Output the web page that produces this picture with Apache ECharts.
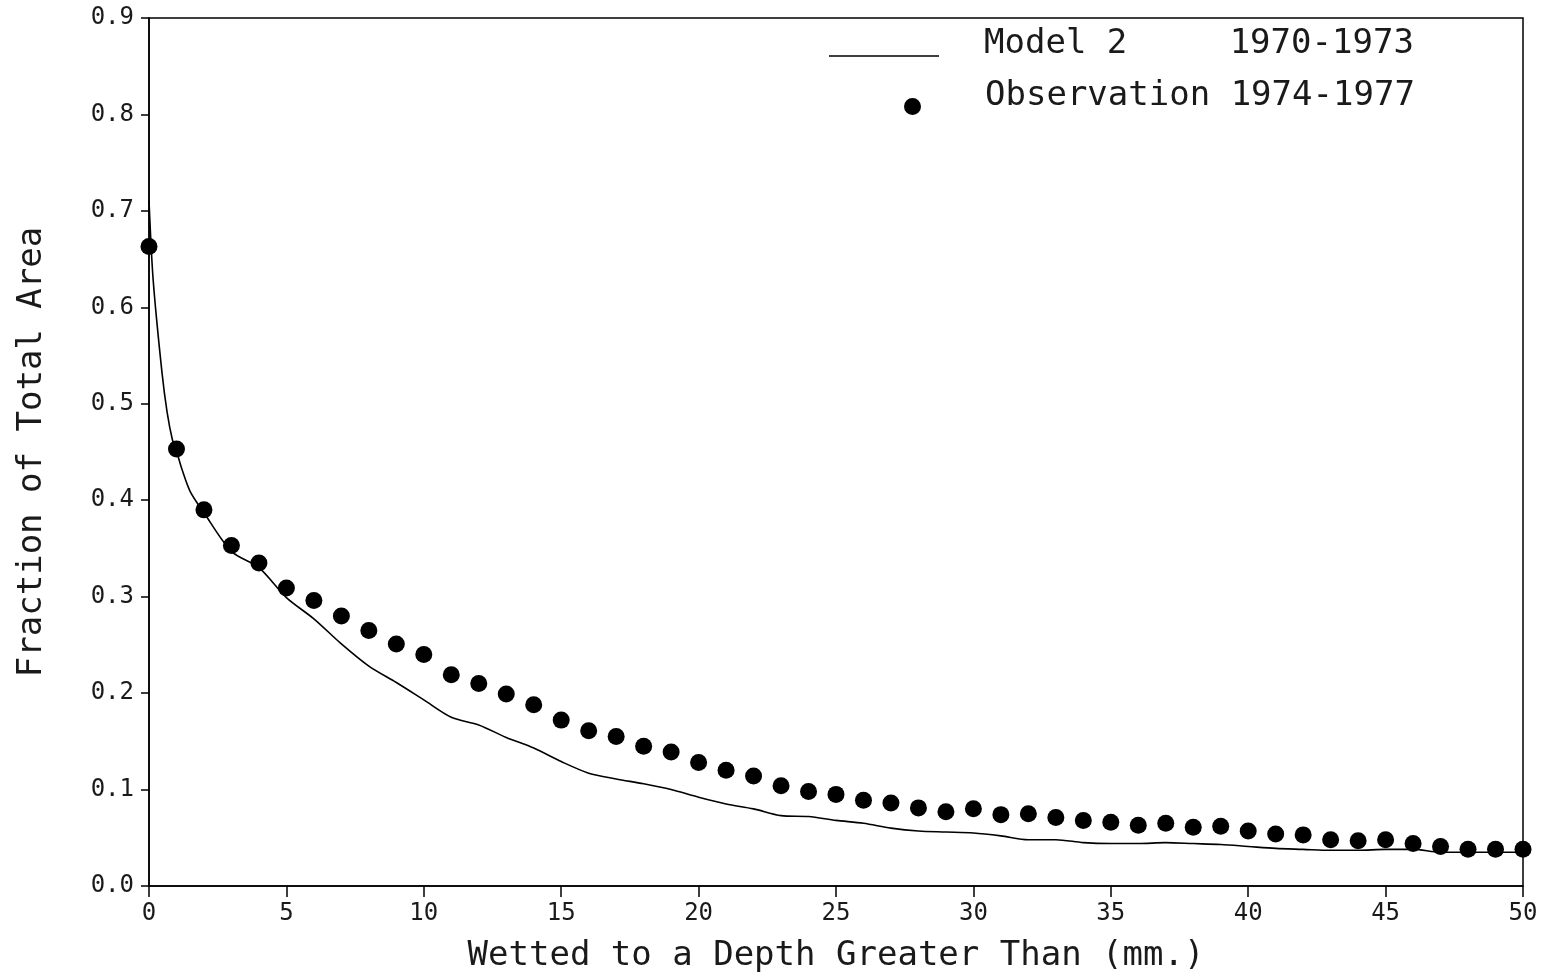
<!DOCTYPE html>
<html>
<head>
<meta charset="utf-8">
<script src="https://cdn.jsdelivr.net/npm/echarts@6/dist/echarts.min.js"></script>
<style>
html,body{margin:0;padding:0;background:#fff;}
#chart{width:1543px;height:980px;}
</style>
</head>
<body>
<div id="chart"></div>
<script>
// Observation 1974-1977 (depth mm -> fraction)
const obsDepth = [0,1,2,3,4,5,6,7,8,9,10,11,12,13,14,15,16,17,18,19,20,21,22,23,24,25,26,27,28,29,30,31,32,33,34,35,36,37,38,39,40,41,42,43,44,45,46,47,48,49,50];
const obsValues = [0.663,0.453,0.390,0.353,0.335,0.309,0.296,0.280,0.265,0.251,0.240,0.219,0.210,0.199,0.188,0.172,0.161,0.155,0.145,0.139,0.128,0.120,0.114,0.104,0.098,0.095,0.089,0.086,0.081,0.077,0.080,0.074,0.075,0.071,0.068,0.066,0.063,0.065,0.061,0.062,0.057,0.054,0.053,0.048,0.047,0.048,0.044,0.041,0.038,0.038,0.038];

// Model 2 1970-1973
const modelDepth = [0,0.15,0.47,0.66,0.85,1,1.2,1.5,2,3,4,5,6,7,8,9,10,11,12,13,14,15,16,17,18,19,20,21,22,23,24,25,26,27,28,29,30,31,32,33,34,35,36,37,38,39,40,41,42,43,44,45,46,47,48,49,50];
const modelValues = [0.711,0.629,0.533,0.491,0.463,0.451,0.432,0.409,0.387,0.347,0.330,0.299,0.277,0.251,0.228,0.211,0.193,0.175,0.167,0.154,0.143,0.129,0.117,0.111,0.106,0.100,0.092,0.085,0.080,0.073,0.072,0.068,0.065,0.060,0.057,0.056,0.055,0.052,0.048,0.048,0.045,0.044,0.044,0.045,0.044,0.043,0.041,0.039,0.038,0.037,0.037,0.038,0.038,0.035,0.035,0.035,0.035];

const xTicks = {min:0, max:50, interval:5};
const yTicks = {min:0, max:0.9, interval:0.1};

const modelName = 'Model 2     1970-1973';
const obsName = 'Observation 1974-1977';

const FONT = '"DejaVu Sans Mono", monospace';

// legend icons: marks sit below the text centre, as in the original key
const lineIcon = 'path://M0,0L0.05,0L0.05,0.05Z M0,24L110,24L110,25.6L0,25.6Z';
const dotIcon = 'path://M8.5,0L8.55,0L8.55,0.05Z M0,28.5A8.5,8.5 0 1,0 17,28.5A8.5,8.5 0 1,0 0,28.5Z';

const chart = echarts.init(document.getElementById('chart'), null, {renderer:'canvas'});
chart.setOption({
  animation:false,
  backgroundColor:'#fff',
  grid:{left:149, right:20, top:18, bottom:94, show:true, borderColor:'#000', borderWidth:1.5, backgroundColor:'transparent'},
  legend:[
    {data:[{name:modelName, icon:lineIcon}], left:824, top:22, itemWidth:110, itemHeight:25.6,
     itemStyle:{color:'#000'},
     textStyle:{fontFamily:FONT, fontSize:34, color:'#1a1a1a', padding:[0,0,0,40]}},
    {data:[{name:obsName, icon:dotIcon}], left:899, top:73, itemWidth:17, itemHeight:37,
     itemStyle:{color:'#000', opacity:1},
     textStyle:{fontFamily:FONT, fontSize:34, color:'#1a1a1a', padding:[0,0,0,59]}}
  ],
  xAxis:{
    type:'value', min:xTicks.min, max:xTicks.max, interval:xTicks.interval,
    name:'Wetted to a Depth Greater Than (mm.)', nameLocation:'middle', nameGap:53,
    nameTextStyle:{fontFamily:FONT, fontSize:34, color:'#1a1a1a'},
    axisLine:{show:true, lineStyle:{color:'#000', width:1.5}},
    axisTick:{show:true, inside:false, length:11, lineStyle:{color:'#000', width:1.5}},
    axisLabel:{fontFamily:FONT, fontSize:24, color:'#1a1a1a', margin:16},
    splitLine:{show:false}
  },
  yAxis:{
    type:'value', min:yTicks.min, max:yTicks.max, interval:yTicks.interval,
    name:'Fraction of Total Area', nameLocation:'middle', nameGap:100,
    nameTextStyle:{fontFamily:FONT, fontSize:34, color:'#1a1a1a'},
    axisLine:{show:true, lineStyle:{color:'#000', width:1.5}},
    axisTick:{show:true, inside:false, length:8, lineStyle:{color:'#000', width:1.5}},
    axisLabel:{fontFamily:FONT, fontSize:24, color:'#1a1a1a', margin:15, formatter:v=>v.toFixed(1)},
    splitLine:{show:false}
  },
  series:[
    {name:modelName, type:'line', data:modelDepth.map((d,i)=>[d, modelValues[i]]),
     symbol:'none', smooth:0.3, lineStyle:{color:'#000', width:1.6}, itemStyle:{color:'#000'}, z:2},
    {name:obsName, type:'scatter', data:obsDepth.map((d,i)=>[d, obsValues[i]]),
     symbol:'circle', symbolSize:17, itemStyle:{color:'#000', opacity:1}, z:3}
  ]
});
</script>
</body>
</html>
